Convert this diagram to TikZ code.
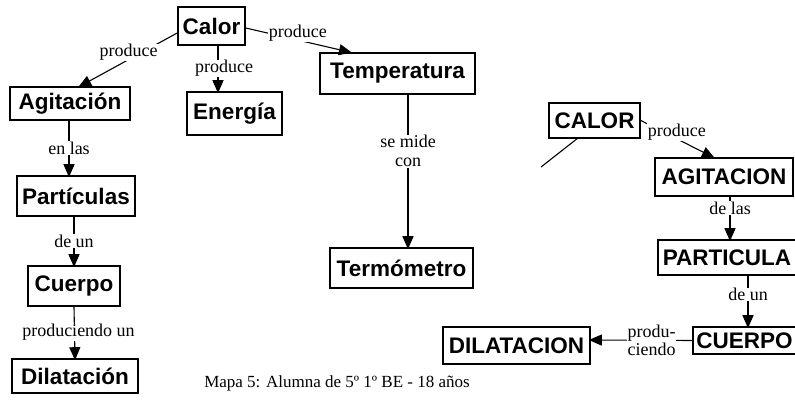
\documentclass[tikz,border=0pt]{standalone}
\usepackage{fontspec}
\setmainfont{Liberation Serif}
\setsansfont{Liberation Sans}
\usetikzlibrary{arrows.meta,positioning}
\tikzset{
  >={Triangle[length=13pt,width=11pt]},
  box/.style={draw,line width=1.6pt,inner sep=1pt,font=\sffamily\bfseries\fontsize{22.5}{25}\selectfont},
  lab/.style={fill=white,inner sep=0.5pt,align=center,font=\fontsize{18}{19}\selectfont},
  arr/.style={->,line width=1.1pt,shorten >=-2pt},
  ln/.style={line width=1.1pt},
}
\begin{document}
\begin{tikzpicture}[x=1pt,y=-1pt]
\useasboundingbox (0,0) rectangle (795,403);
% mapa de la izquierda
\node[box,minimum width=67pt,minimum height=38pt] (calor) at (211.5,26) {Calor};
\node[box,minimum width=120pt,minimum height=33pt] (agit) at (70,103.5) {Agitación};
\node[box,minimum width=95pt,minimum height=43pt] (energia) at (234.5,113.5) {Energía};
\node[box,minimum width=155pt,minimum height=41pt] (temp) at (397.5,73.5) {Temperatura};
\node[box,minimum width=118pt,minimum height=40pt] (part) at (76,196) {Partículas};
\node[box,minimum width=92pt,minimum height=40pt] (cuerpo) at (74,286) {Cuerpo};
\node[box,minimum width=126pt,minimum height=34pt] (dilat) at (75,376) {Dilatación};
\node[box,minimum width=143pt,minimum height=40pt] (termo) at (401.5,268) {Termómetro};
\draw[arr] ([yshift=-7pt]calor.west) -- node[lab,yshift=7pt]{produce} ([xshift=10pt]agit.north);
\draw[arr] ([xshift=6.5pt]calor.south) -- node[lab,xshift=6pt]{produce} ([xshift=-16.5pt]energia.north);
\draw[arr] ([yshift=-2pt]calor.east) -- node[lab,yshift=7pt]{produce} ([xshift=-47.5pt]temp.north);
\draw[arr] ([xshift=-1pt]agit.south) -- node[lab]{en las} ([xshift=-7pt]part.north);
\draw[arr] ([xshift=-2pt]part.south) -- node[lab]{de un} (cuerpo.north);
\draw[arr] (cuerpo.south) -- node[lab,xshift=4pt]{produciendo un} (dilat.north);
\draw[arr] ([xshift=10.5pt]temp.south) -- node[lab,pos=.37]{se mide\\con} ([xshift=6.5pt]termo.north);
% mapa de la derecha
\node[box,minimum width=91pt,minimum height=35pt] (CALOR) at (594.5,120.5) {CALOR};
\node[box,minimum width=138pt,minimum height=38pt] (AGIT) at (724,177) {AGITACION};
\node[box,minimum width=138pt,minimum height=35pt] (PART) at (727,257.5) {PARTICULA};
\node[box,minimum width=103pt,minimum height=27pt] (CUERPO) at (744.5,340.5) {CUERPO};
\node[box,minimum width=147pt,minimum height=37pt] (DILAT) at (516.5,345.5) {DILATACION};
\coordinate (suelto) at (541,167);
\draw[arr] (CALOR.east) -- node[lab,yshift=7pt]{produce} ([xshift=-11pt]AGIT.north);
\draw[ln] ([xshift=-17.5pt]CALOR.south) -- (suelto);
\draw[arr] ([xshift=6pt]AGIT.south) -- node[lab,pos=.27]{de las} ([xshift=3pt]PART.north);
\draw[arr] ([xshift=21pt]PART.south) -- node[lab,pos=.37]{de un} ([xshift=3.5pt]CUERPO.north);
\draw[arr] (CUERPO.west) -- node[lab,pos=.4,font=\fontsize{18}{18}\selectfont]{produ-\\ciendo} ([yshift=5.5pt]DILAT.east);
\node[font=\fontsize{17}{19}\selectfont] (pie) at (337,383) {Mapa 5: Alumna de 5º 1º BE - 18 años};
\end{tikzpicture}
\end{document}
